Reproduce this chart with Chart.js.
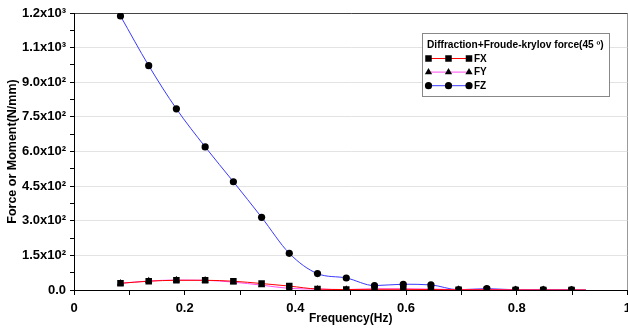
<!DOCTYPE html>
<html>
<head>
<meta charset="utf-8">
<script src="https://cdn.jsdelivr.net/npm/chart.js@4/dist/chart.umd.min.js"></script>
<style>
html, body { margin: 0; padding: 0; background: #fff; overflow: hidden; }
#wrap { position: absolute; left: 0; top: 0; width: 632px; height: 331px; }
</style>
</head>
<body>
<div id="wrap"><canvas id="chart"></canvas></div>
<script>
// values
const freq = [0.084, 0.135, 0.185, 0.237, 0.288, 0.339, 0.389, 0.44, 0.492, 0.543, 0.595, 0.645, 0.695, 0.746, 0.798, 0.848, 0.899, 0.925];
const fx = [29, 38, 42, 42, 38, 28, 17, 4, 2, 3, 3, 2, 1, 1, 0, 0, 0, 0];
const fy = [29, 39, 43, 42, 34, 21, 7, 4, 2, 5, 5, 4, 2, 3, 1, 1, 0, 0];
const fz = [1187, 972, 785, 620, 469, 315, 159, 71, 52, 19, 25, 22, 1, 6, 1, 1, 1, 0];

const seriesNames = ["FX", "FY", "FZ"];
const legendTitle = "Diffraction+Froude-krylov force(45 \u00BA)";

const yTickValues = [0, 75, 150, 225, 300, 375, 450, 525, 600, 675, 750, 825, 900, 975, 1050, 1125, 1200];
const yTickLabels = ["0.0", "", "1.5x10\u00B2", "", "3.0x10\u00B2", "", "4.5x10\u00B2", "", "6.0x10\u00B2", "",
    "7.5x10\u00B2", "", "9.0x10\u00B2", "", "1.1x10\u00B3", "", "1.2x10\u00B3"];
const xTickValues = [0, 0.1, 0.2, 0.3, 0.4, 0.5, 0.6, 0.7, 0.8, 0.9, 1];
const xTickLabels = ["0", "", "0.2", "", "0.4", "", "0.6", "", "0.8", "", "1"];

const FONT = '"Liberation Sans", Arial, sans-serif';

function toPoints(ys) {
    return freq.map((f, i) => ({ x: f, y: ys[i] }));
}

// no marker on the final line-end point
function markerSize(r) {
    return ctx => ctx.dataIndex === freq.length - 1 ? 0 : r;
}

const boxLegend = {
    id: "boxLegend",
    afterDraw(chart) {
        const ctx = chart.ctx;
        ctx.save();
        ctx.fillStyle = "#fff";
        ctx.fillRect(422, 33, 187, 63);
        ctx.strokeStyle = "#888";
        ctx.lineWidth = 1;
        ctx.strokeRect(422.5, 33.5, 187, 63);

        ctx.font = "bold 10px " + FONT;
        const w = ctx.measureText(legendTitle).width;
        const size = 10 * 177 / w;
        ctx.font = "bold " + size.toFixed(2) + "px " + FONT;
        ctx.fillStyle = "#000";
        ctx.textBaseline = "middle";
        ctx.fillText(legendTitle, 427, 45);

        ctx.font = "bold 10px " + FONT;
        chart.data.datasets.forEach((ds, i) => {
            const y = 58.5 + i * 13.6;
            ctx.strokeStyle = ds.borderColor;
            ctx.lineWidth = 1;
            ctx.beginPath();
            ctx.moveTo(428, y);
            ctx.lineTo(469, y);
            ctx.stroke();
            ctx.fillStyle = "#000";
            [428.5, 448.5, 469].forEach(px => {
                Chart.helpers.drawPoint(ctx, {
                    pointStyle: ds.pointStyle, radius: ds.legendRadius, rotation: 0, borderWidth: 0
                }, px, y);
            });
            ctx.fillStyle = "#000";
            ctx.fillText(ds.label, 474, y + 0.5);
        });
        ctx.restore();
    }
};

new Chart(document.getElementById("chart"), {
    type: "line",
    data: {
        datasets: [
            {
                label: seriesNames[0],
                data: toPoints(fx),
                borderColor: "#ff0000",
                pointStyle: "rect",
                legendRadius: 4.6,
                pointRadius: markerSize(4.6),
            },
            {
                label: seriesNames[1],
                data: toPoints(fy),
                borderColor: "#ff4cf0",
                pointStyle: "triangle",
                legendRadius: 4.2,
                pointRadius: markerSize(4.2),
            },
            {
                label: seriesNames[2],
                data: toPoints(fz),
                borderColor: "#3a3aff",
                pointStyle: "circle",
                legendRadius: 3.6,
                pointRadius: markerSize(3.6),
            }
        ]
    },
    options: {
        responsive: true,
        maintainAspectRatio: false,
        devicePixelRatio: 1,
        animation: false,
        layout: { padding: { left: 0, right: 3, top: 13, bottom: 0 } },
        elements: {
            line: { borderWidth: 1, tension: 0.4, cubicInterpolationMode: "monotone" },
            point: { backgroundColor: "#000", borderColor: "#000", borderWidth: 0 }
        },
        plugins: {
            legend: { display: false },
            tooltip: { enabled: false }
        },
        scales: {
            x: {
                type: "linear",
                min: 0,
                max: 1,
                afterBuildTicks: s => { s.ticks = xTickValues.map(v => ({ value: v })); },
                afterFit: s => { s.height = 41; s.paddingLeft = 0; s.paddingRight = 0; },
                border: { color: "#000", width: 1 },
                grid: {
                    color: c => (c.tick && c.tick.value === 1) ? "#9a9a9a" : "rgba(0,0,0,0)",
                    tickColor: "#000",
                    tickLength: 5
                },
                ticks: {
                    autoSkip: false,
                    maxRotation: 0,
                    padding: 6,
                    color: "#000",
                    font: { family: FONT, size: 13, weight: "bold" },
                    callback: (v, i) => xTickLabels[i]
                },
                title: {
                    display: true,
                    text: "Frequency(Hz)",
                    color: "#000",
                    font: { family: FONT, size: 12, weight: "bold" },
                    padding: { top: 0, bottom: 5 }
                }
            },
            y: {
                min: 0,
                max: 1200,
                afterBuildTicks: s => { s.ticks = yTickValues.map(v => ({ value: v })); },
                afterFit: s => { s.width = 74; s.paddingTop = 0; s.paddingBottom = 0; },
                border: { color: "#000", width: 1 },
                grid: {
                    color: c => {
                        const v = c.tick ? c.tick.value : 0;
                        if (v === 1200) return "#444";
                        if (v > 0 && v % 150 === 0) return "#e3e3e3";
                        return "rgba(0,0,0,0)";
                    },
                    tickColor: "#000",
                    tickLength: 4
                },
                ticks: {
                    autoSkip: false,
                    padding: 4,
                    color: "#000",
                    font: { family: FONT, size: 13, weight: "bold" },
                    callback: (v, i) => yTickLabels[i]
                },
                title: {
                    display: true,
                    text: "Force or Moment(N/mm)",
                    color: "#000",
                    font: { family: FONT, size: 12.5, weight: "bold" },
                    padding: { top: 5, bottom: 0 }
                }
            }
        }
    },
    plugins: [boxLegend]
});
</script>
</body>
</html>
